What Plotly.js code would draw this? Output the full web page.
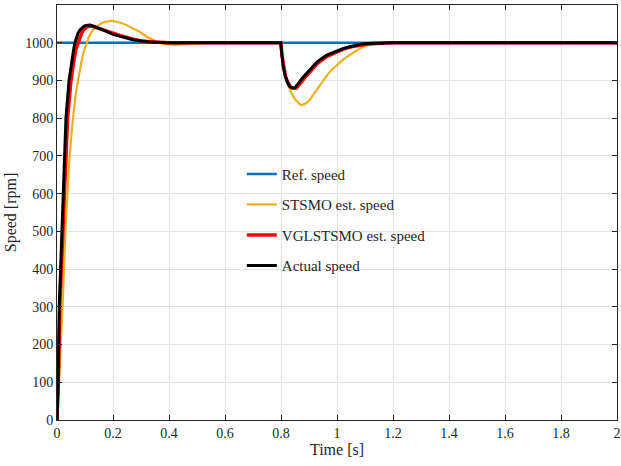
<!DOCTYPE html>
<html>
<head>
<meta charset="utf-8">
<script src="https://cdn.plot.ly/plotly-3.0.1.min.js"></script>
<style>html,body{margin:0;padding:0;background:#fff;}#chart{width:621px;height:466px;}</style>
</head>
<body>
<div id="chart"></div>
<script>
const refTime = [0, 2];
const refSpeed = [1000, 1000];

const stsmoTime = [0, 0.004, 0.01, 0.02, 0.03, 0.045, 0.057, 0.066, 0.075, 0.083, 0.09, 0.098, 0.106, 0.115, 0.125, 0.137, 0.15, 0.162, 0.175, 0.185, 0.195, 0.207, 0.22, 0.235, 0.25, 0.27, 0.3, 0.32, 0.34, 0.356, 0.38, 0.42, 0.48, 0.55, 0.6, 0.7, 0.799, 0.805, 0.812, 0.822, 0.835, 0.848, 0.862, 0.868, 0.874, 0.881, 0.888, 0.895, 0.904, 0.916, 0.93, 0.945, 0.963, 0.98, 1.0, 1.023, 1.05, 1.082, 1.1, 1.118, 1.15, 1.2, 1.4, 1.6, 1.8, 2];
const stsmoSpeed = [0, 60, 180, 300, 500, 700, 800, 860, 900, 935, 960, 982, 1000, 1017, 1030, 1041, 1048, 1053, 1056, 1057.5, 1058, 1057, 1055, 1051, 1046, 1039, 1027, 1016, 1008, 1003, 997, 994, 997, 1000, 1000, 1000, 1000, 962, 925, 895, 870, 852, 839, 836, 835, 836, 839, 843, 850, 863, 878, 895, 912, 928, 942, 956, 970, 985, 991, 995, 999, 1000, 1000, 1000, 1000, 1000];

const vglTime = [0, 0.005, 0.01, 0.021, 0.03, 0.038, 0.05, 0.056, 0.062, 0.068, 0.075, 0.081, 0.088, 0.094, 0.1, 0.106, 0.112, 0.118, 0.124, 0.132, 0.14, 0.15, 0.16, 0.18, 0.2, 0.23, 0.27, 0.3, 0.35, 0.4, 0.6, 0.799, 0.804, 0.81, 0.816, 0.822, 0.828, 0.835, 0.841, 0.848, 0.854, 0.86, 0.87, 0.88, 0.892, 0.904, 0.93, 0.963, 1.0, 1.023, 1.05, 1.082, 1.11, 1.14, 1.2, 1.4, 1.6, 1.8, 2];
const vglSpeed = [0, 100, 300, 500, 700, 800, 900, 935, 960, 983, 1000, 1014, 1025, 1033, 1038, 1041, 1043, 1044, 1044, 1042, 1040, 1038, 1035, 1030, 1025, 1018, 1010, 1005, 1002, 1000, 1000, 1000, 965, 930, 910, 898, 889, 882, 879, 878, 879, 884, 892, 902, 913, 924, 945, 963, 976, 983, 989, 994, 996.5, 998, 1000, 1000, 1000, 1000, 1000];

const actualTime = [0, 0.004, 0.008, 0.017, 0.025, 0.032, 0.043, 0.05, 0.055, 0.06, 0.064, 0.07, 0.075, 0.082, 0.09, 0.097, 0.105, 0.111, 0.118, 0.126, 0.135, 0.145, 0.155, 0.177, 0.2, 0.236, 0.27, 0.296, 0.33, 0.4, 0.6, 0.799, 0.803, 0.808, 0.814, 0.82, 0.826, 0.832, 0.838, 0.844, 0.85, 0.856, 0.865, 0.875, 0.89, 0.904, 0.93, 0.963, 1.0, 1.023, 1.05, 1.082, 1.11, 1.14, 1.2, 1.4, 1.6, 1.8, 2];
const actualSpeed = [0, 100, 300, 500, 700, 800, 900, 940, 960, 985, 1000, 1014, 1025, 1034, 1040, 1044, 1046, 1047, 1047, 1045, 1043, 1040, 1037, 1030, 1022, 1015, 1008, 1005, 1002, 1000, 1000, 1000, 970, 936, 915, 901, 890, 883, 881, 880, 881, 886, 895, 905, 917, 928, 950, 967, 979, 985, 990, 996, 998, 999, 1000, 1000, 1000, 1000, 1000];

const xTicks = [0, 0.2, 0.4, 0.6, 0.8, 1, 1.2, 1.4, 1.6, 1.8, 2];
const xTickLabels = ['0', '0.2', '0.4', '0.6', '0.8', '1', '1.2', '1.4', '1.6', '1.8', '2'];
const yTicks = [0, 100, 200, 300, 400, 500, 600, 700, 800, 900, 1000, 1100];

const FONT = '"Liberation Serif", "Times New Roman", serif';

const traces = [
  {x: refTime, y: refSpeed, name: 'Ref. speed', mode: 'lines', line: {color: '#0072BD', width: 2.5}, legendgroup: 'a'},
  {x: stsmoTime, y: stsmoSpeed, name: 'STSMO est. speed', mode: 'lines', line: {color: '#EDB120', width: 2.2}, legendgroup: 'b'},
  {x: vglTime, y: vglSpeed, name: 'VGLSTSMO est. speed', mode: 'lines', line: {color: '#FF0000', width: 3.4}, legendgroup: 'c'},
  {x: actualTime, y: actualSpeed, name: 'Actual speed', mode: 'lines', line: {color: '#000000', width: 3}, legendgroup: 'd'}
];

const axisCommon = {
  showline: true, linecolor: '#262626', linewidth: 1, mirror: 'ticks',
  ticks: 'inside', ticklen: 5, tickcolor: '#262626',
  showgrid: true, gridcolor: '#e3e3e3', gridwidth: 1,
  zeroline: false,
  tickfont: {family: FONT, size: 14, color: '#262626'}
};

const layout = {
  width: 621, height: 466,
  margin: {l: 57, r: 4, t: 5, b: 46},
  paper_bgcolor: '#ffffff', plot_bgcolor: '#ffffff',
  font: {family: FONT, color: '#262626'},
  showlegend: true,
  legend: {x: 0.33, y: 0.632, xanchor: 'left', yanchor: 'top', bgcolor: 'rgba(255,255,255,0)', borderwidth: 0,
           font: {family: FONT, size: 15, color: '#262626'}, tracegroupgap: 8, traceorder: 'grouped'},
  xaxis: Object.assign({}, axisCommon, {range: [0, 2], tickvals: xTicks, ticktext: xTickLabels,
          title: {text: 'Time [s]', font: {family: FONT, size: 16, color: '#262626'}, standoff: 4}}),
  yaxis: Object.assign({}, axisCommon, {range: [0, 1100], tickvals: yTicks,
          title: {text: 'Speed [rpm]', font: {family: FONT, size: 16, color: '#262626'}, standoff: 4}})
};

Plotly.newPlot('chart', traces, layout, {displayModeBar: false, staticPlot: true});
</script>
</body>
</html>
